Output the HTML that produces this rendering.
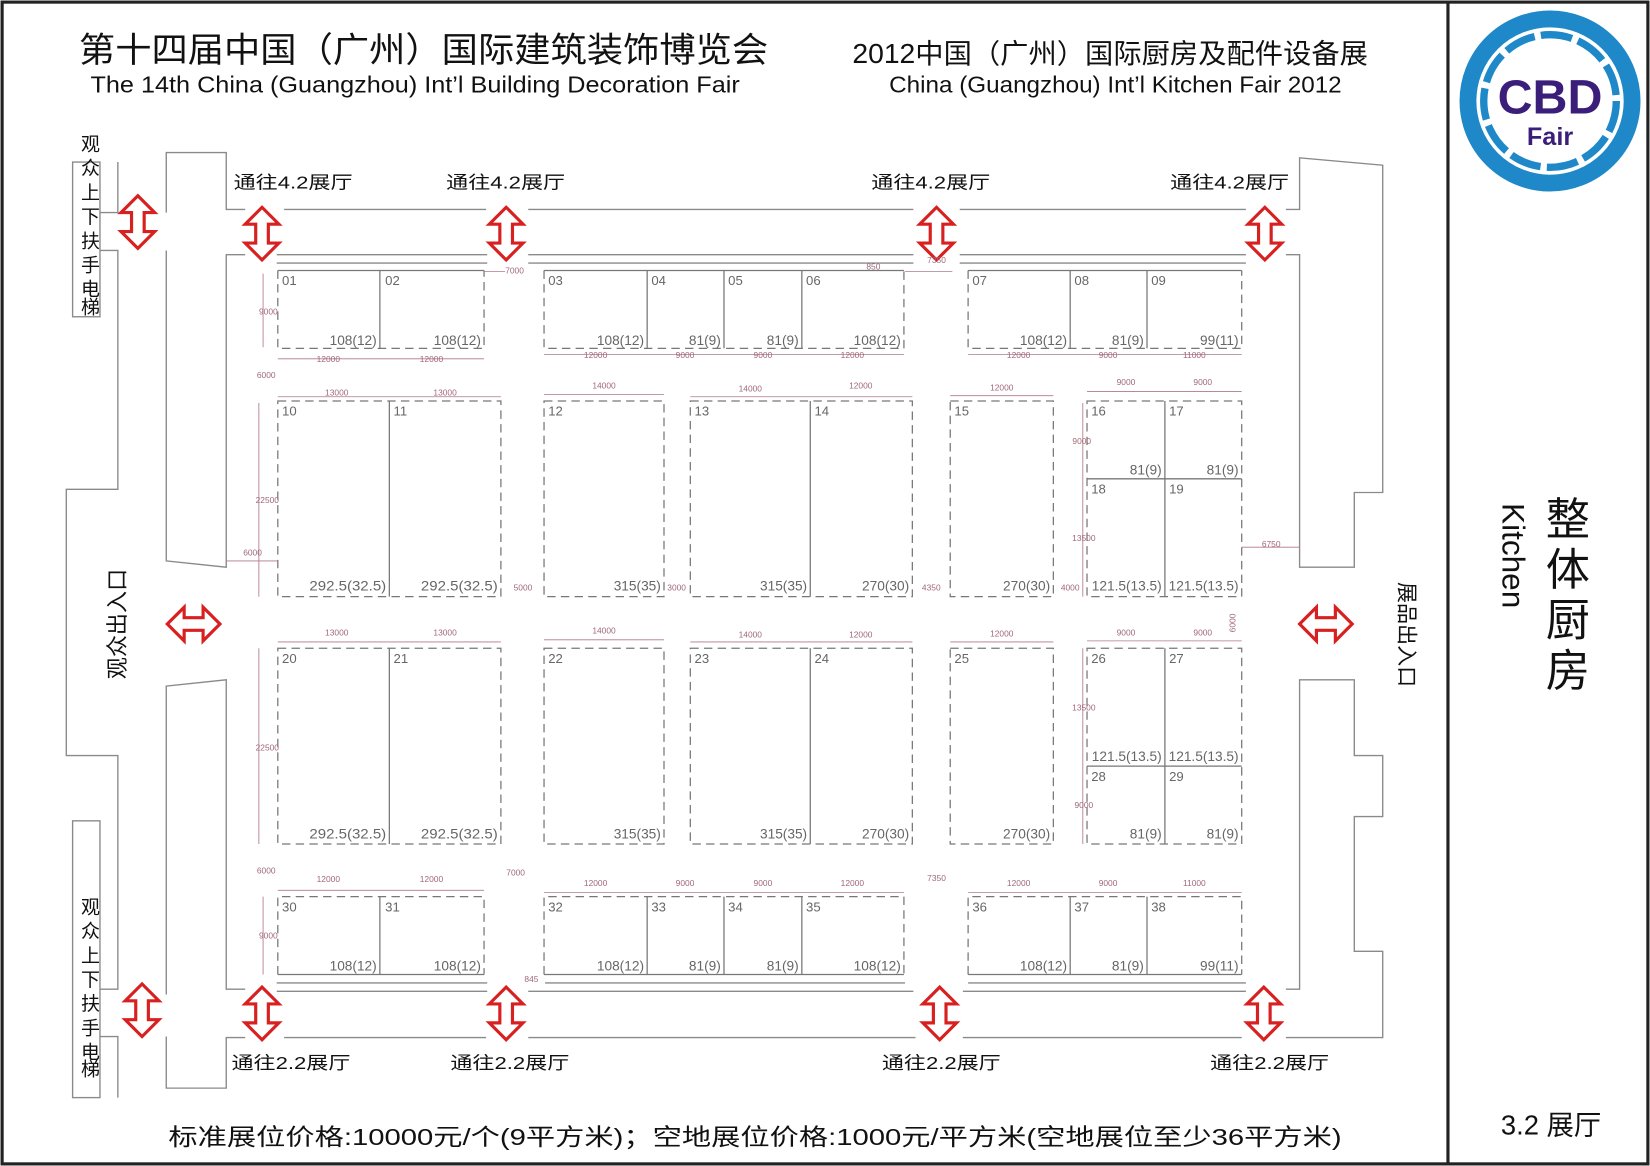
<!DOCTYPE html>
<html><head><meta charset="utf-8"><style>
html,body{margin:0;padding:0;background:#fff;}
svg{display:block;}
text{font-family:"Liberation Sans","Noto Sans CJK SC",sans-serif;}
.w{stroke:#8a8a8a;stroke-width:1.3;fill:none;}
.d{stroke:#777;stroke-width:1.2;fill:none;stroke-dasharray:8,5;}
.s{stroke:#777;stroke-width:1.2;fill:none;}
.dm{stroke:#b07888;stroke-width:0.8;fill:none;}
.dt{font-size:8px;fill:#a06878;}
.bn{font-size:12.5px;fill:#666;}
.bv{font-size:13px;fill:#666;text-anchor:end;}
.ar{stroke:#d82020;stroke-width:3;fill:#fff;stroke-linejoin:miter;}
.lb{font-size:17px;fill:#111;}
</style></head><body>
<svg width="1650" height="1166" viewBox="0 0 1568 1108" preserveAspectRatio="none" xmlns="http://www.w3.org/2000/svg">
<defs>
<path id="av" d="M0,-25 L16,-9 L6,-9 L6,9 L16,9 L0,25 L-16,9 L-6,9 L-6,-9 L-16,-9 Z"/>
<path id="ah" d="M-25,0 L-9,-16 L-9,-6 L9,-6 L9,-16 L25,0 L9,16 L9,6 L-9,6 L-9,16 Z"/>
</defs>
<rect x="2" y="2" width="1564" height="1104" fill="#fff" stroke="#222" stroke-width="3"/>
<line x1="1376" y1="2" x2="1376" y2="1106" stroke="#222" stroke-width="3"/>

<!-- titles -->
<text x="75" y="59" font-size="33" textLength="655" lengthAdjust="spacingAndGlyphs" fill="#111">第十四届中国（广州）国际建筑装饰博览会</text>
<text x="86" y="88" font-size="22" textLength="617" lengthAdjust="spacingAndGlyphs" fill="#111">The  14th  China (Guangzhou) Int’l  Building  Decoration  Fair</text>
<text x="810" y="60" font-size="26" textLength="490" lengthAdjust="spacingAndGlyphs" fill="#111">2012中国（广州）国际厨房及配件设备展</text>
<text x="845" y="88" font-size="22" textLength="430" lengthAdjust="spacingAndGlyphs" fill="#111">China (Guangzhou) Int’l Kitchen Fair  2012</text>

<!-- logo -->
<circle cx="1473" cy="96" r="78" fill="none" stroke="#1e88c8" stroke-width="16"/>
<circle cx="1473" cy="96" r="63" fill="none" stroke="#1e88c8" stroke-width="7" stroke-dasharray="30,6"/>
<circle cx="1473" cy="96" r="56" fill="#fff"/>
<text x="1473" y="108" font-size="46" font-weight="bold" text-anchor="middle" fill="#3a1e7a">CBD</text>
<text x="1473" y="138" font-size="24" font-weight="bold" text-anchor="middle" fill="#3a1e7a">Fair</text>

<!-- right panel -->
<g font-size="42" fill="#111" text-anchor="middle">
<text x="1490" y="508">整</text><text x="1490" y="556">体</text><text x="1490" y="604">厨</text><text x="1490" y="652">房</text>
</g>
<text transform="translate(1428,478) rotate(90)" font-size="30" fill="#111">Kitchen</text>
<text x="1474" y="1078" font-size="26" text-anchor="middle" fill="#111">3.2 展厅</text>

<text x="160" y="1088" font-size="22" textLength="1115" lengthAdjust="spacingAndGlyphs" fill="#111">标准展位价格:10000元/个(9平方米)；空地展位价格:1000元/平方米(空地展位至少36平方米)</text>

<!-- left side walls -->
<rect x="69" y="154" width="26" height="147" class="w"/>
<g font-size="18" fill="#111" text-anchor="middle">
<text x="86" y="143">观</text><text x="86" y="166">众</text><text x="86" y="189">上</text><text x="86" y="212">下</text><text x="86" y="235">扶</text><text x="86" y="258">手</text><text x="86" y="281">电</text><text x="86" y="298">梯</text>
</g>
<rect x="69" y="780" width="26" height="263" class="w"/>
<g font-size="18" fill="#111" text-anchor="middle">
<text x="86" y="868">观</text><text x="86" y="891">众</text><text x="86" y="914">上</text><text x="86" y="937">下</text><text x="86" y="960">扶</text><text x="86" y="983">手</text><text x="86" y="1006">电</text><text x="86" y="1022">梯</text>
</g>
<polyline class="w" points="112,154 112,202 95,202"/>
<polyline class="w" points="95,238 112,238 112,465 63,465 63,718 112,718 112,940 95,940"/>
<polyline class="w" points="95,985 112,985 112,1043"/>
<polyline class="w" points="158,202 158,145 215,145 215,199 233,199"/>
<polyline class="w" points="233,242 215,242 215,539 158,533 158,238"/>
<polyline class="w" points="158,945 158,652 215,646 215,940 233,940"/>
<polyline class="w" points="233,986 215,986 215,1034 158,1034 158,985"/>
<text transform="translate(119,593) rotate(-90)" font-size="21" fill="#111" text-anchor="middle">观众出入口</text>

<!-- right walls -->
<polyline class="w" points="1222,199 1235,199 1235,150 1314,157 1314,468 1287,468 1287,539 1235,539 1235,242 1222,242"/>
<polyline class="w" points="1222,940 1235,940 1235,646 1287,646 1287,718 1314,718 1314,776 1287,776 1287,904 1314,904 1314,986 1222,986"/>
<text transform="translate(1330,603) rotate(90)" font-size="20" fill="#111" text-anchor="middle">展品出入口</text>

<g class="w">
<line x1="270" y1="199" x2="462" y2="199"/><line x1="502" y1="199" x2="868" y2="199"/><line x1="912" y1="199" x2="1184" y2="199"/>
<line x1="263" y1="242" x2="463" y2="242"/><line x1="263" y1="250" x2="463" y2="250"/>
<line x1="502" y1="242" x2="868" y2="242"/><line x1="502" y1="250" x2="868" y2="250"/>
<line x1="912" y1="242" x2="1184" y2="242"/><line x1="912" y1="250" x2="1184" y2="250"/>
<line x1="263" y1="934" x2="463" y2="934"/><line x1="263" y1="942" x2="463" y2="942"/><line x1="270" y1="986" x2="462" y2="986"/>
<line x1="518" y1="934" x2="860" y2="934"/><line x1="502" y1="942" x2="868" y2="942"/><line x1="502" y1="986" x2="870" y2="986"/>
<line x1="920" y1="934" x2="1184" y2="934"/><line x1="915" y1="942" x2="1184" y2="942"/><line x1="915" y1="986" x2="1180" y2="986"/>
</g>

<g class="lb">
<text x="222" y="179" textLength="113" lengthAdjust="spacingAndGlyphs">通往4.2展厅</text><text x="424" y="179" textLength="113" lengthAdjust="spacingAndGlyphs">通往4.2展厅</text><text x="828" y="179" textLength="113" lengthAdjust="spacingAndGlyphs">通往4.2展厅</text><text x="1112" y="179" textLength="113" lengthAdjust="spacingAndGlyphs">通往4.2展厅</text>
<text x="220" y="1016" textLength="113" lengthAdjust="spacingAndGlyphs">通往2.2展厅</text><text x="428" y="1016" textLength="113" lengthAdjust="spacingAndGlyphs">通往2.2展厅</text><text x="838" y="1016" textLength="113" lengthAdjust="spacingAndGlyphs">通往2.2展厅</text><text x="1150" y="1016" textLength="113" lengthAdjust="spacingAndGlyphs">通往2.2展厅</text>
</g>

<g class="ar">
<use href="#av" x="131" y="211"/><use href="#av" x="249" y="222"/><use href="#av" x="481" y="222"/><use href="#av" x="890" y="222"/><use href="#av" x="1202" y="222"/>
<use href="#av" x="135" y="960"/><use href="#av" x="249" y="963"/><use href="#av" x="481" y="963"/><use href="#av" x="893" y="963"/><use href="#av" x="1201" y="963"/>
<use href="#ah" x="184" y="593"/><use href="#ah" x="1260" y="593"/>
</g>

<g>
<line class="s" x1="264" y1="257" x2="460" y2="257"/><polyline class="d" points="264,257 264,331 460,331 460,257"/><line class="s" x1="361" y1="257" x2="361" y2="331"/>
<line class="s" x1="517" y1="257" x2="859" y2="257"/><polyline class="d" points="517,257 517,331 859,331 859,257"/>
<line class="s" x1="615" y1="257" x2="615" y2="331"/><line class="s" x1="688" y1="257" x2="688" y2="331"/><line class="s" x1="762" y1="257" x2="762" y2="331"/>
<line class="s" x1="920" y1="257" x2="1180" y2="257"/><polyline class="d" points="920,257 920,331 1180,331 1180,257"/>
<line class="s" x1="1017" y1="257" x2="1017" y2="331"/><line class="s" x1="1090" y1="257" x2="1090" y2="331"/>
</g>
<g class="bn">
<text x="268" y="271">01</text><text x="366" y="271">02</text><text x="521" y="271">03</text><text x="619" y="271">04</text><text x="692" y="271">05</text><text x="766" y="271">06</text><text x="924" y="271">07</text><text x="1021" y="271">08</text><text x="1094" y="271">09</text>
</g>
<g class="bv">
<text x="358" y="328">108(12)</text><text x="457" y="328">108(12)</text><text x="612" y="328">108(12)</text><text x="685" y="328">81(9)</text><text x="759" y="328">81(9)</text><text x="856" y="328">108(12)</text><text x="1014" y="328">108(12)</text><text x="1087" y="328">81(9)</text><text x="1177" y="328">99(11)</text>
</g>

<g>
<rect class="d" x="264" y="381" width="212" height="186"/><line class="s" x1="370" y1="381" x2="370" y2="567"/>
<rect class="d" x="517" y="381" width="114" height="186"/>
<rect class="d" x="656" y="381" width="211" height="186"/><line class="s" x1="770" y1="381" x2="770" y2="567"/>
<rect class="d" x="903" y="381" width="98" height="186"/>
<rect class="d" x="1033" y="381" width="147" height="186"/><line class="s" x1="1107" y1="381" x2="1107" y2="567"/><line class="s" x1="1033" y1="455" x2="1180" y2="455"/>
</g>
<g class="bn">
<text x="268" y="395">10</text><text x="374" y="395">11</text><text x="521" y="395">12</text><text x="660" y="395">13</text><text x="774" y="395">14</text><text x="907" y="395">15</text>
<text x="1037" y="395">16</text><text x="1111" y="395">17</text><text x="1037" y="469">18</text><text x="1111" y="469">19</text>
</g>
<g class="bv">
<text x="367" y="561" textLength="73" lengthAdjust="spacingAndGlyphs">292.5(32.5)</text><text x="473" y="561" textLength="73" lengthAdjust="spacingAndGlyphs">292.5(32.5)</text><text x="628" y="561">315(35)</text><text x="767" y="561">315(35)</text><text x="864" y="561">270(30)</text><text x="998" y="561">270(30)</text>
<text x="1104" y="451">81(9)</text><text x="1177" y="451">81(9)</text><text x="1104" y="561">121.5(13.5)</text><text x="1177" y="561">121.5(13.5)</text>
</g>

<g>
<rect class="d" x="264" y="616" width="212" height="186"/><line class="s" x1="370" y1="616" x2="370" y2="802"/>
<rect class="d" x="517" y="616" width="114" height="186"/>
<rect class="d" x="656" y="616" width="211" height="186"/><line class="s" x1="770" y1="616" x2="770" y2="802"/>
<rect class="d" x="903" y="616" width="98" height="186"/>
<rect class="d" x="1033" y="616" width="147" height="186"/><line class="s" x1="1107" y1="616" x2="1107" y2="802"/><line class="s" x1="1033" y1="728" x2="1180" y2="728"/>
</g>
<g class="bn">
<text x="268" y="630">20</text><text x="374" y="630">21</text><text x="521" y="630">22</text><text x="660" y="630">23</text><text x="774" y="630">24</text><text x="907" y="630">25</text>
<text x="1037" y="630">26</text><text x="1111" y="630">27</text><text x="1037" y="742">28</text><text x="1111" y="742">29</text>
</g>
<g class="bv">
<text x="367" y="797" textLength="73" lengthAdjust="spacingAndGlyphs">292.5(32.5)</text><text x="473" y="797" textLength="73" lengthAdjust="spacingAndGlyphs">292.5(32.5)</text><text x="628" y="797">315(35)</text><text x="767" y="797">315(35)</text><text x="864" y="797">270(30)</text><text x="998" y="797">270(30)</text>
<text x="1104" y="723">121.5(13.5)</text><text x="1177" y="723">121.5(13.5)</text><text x="1104" y="797">81(9)</text><text x="1177" y="797">81(9)</text>
</g>

<g>
<line class="s" x1="264" y1="926" x2="460" y2="926"/><polyline class="d" points="264,926 264,852 460,852 460,926"/><line class="s" x1="361" y1="852" x2="361" y2="926"/>
<line class="s" x1="517" y1="926" x2="859" y2="926"/><polyline class="d" points="517,926 517,852 859,852 859,926"/>
<line class="s" x1="615" y1="852" x2="615" y2="926"/><line class="s" x1="688" y1="852" x2="688" y2="926"/><line class="s" x1="762" y1="852" x2="762" y2="926"/>
<line class="s" x1="920" y1="926" x2="1180" y2="926"/><polyline class="d" points="920,926 920,852 1180,852 1180,926"/>
<line class="s" x1="1017" y1="852" x2="1017" y2="926"/><line class="s" x1="1090" y1="852" x2="1090" y2="926"/>
</g>
<g class="bn">
<text x="268" y="866">30</text><text x="366" y="866">31</text><text x="521" y="866">32</text><text x="619" y="866">33</text><text x="692" y="866">34</text><text x="766" y="866">35</text><text x="924" y="866">36</text><text x="1021" y="866">37</text><text x="1094" y="866">38</text>
</g>
<g class="bv">
<text x="358" y="922">108(12)</text><text x="457" y="922">108(12)</text><text x="612" y="922">108(12)</text><text x="685" y="922">81(9)</text><text x="759" y="922">81(9)</text><text x="856" y="922">108(12)</text><text x="1014" y="922">108(12)</text><text x="1087" y="922">81(9)</text><text x="1177" y="922">99(11)</text>
</g>

<g class="dm">
<line x1="264" y1="341" x2="460" y2="341"/><line x1="517" y1="337" x2="859" y2="337"/><line x1="920" y1="337" x2="1180" y2="337"/>
<line x1="264" y1="377" x2="476" y2="377"/><line x1="517" y1="375" x2="631" y2="375"/><line x1="656" y1="377" x2="867" y2="377"/><line x1="903" y1="376" x2="1001" y2="376"/><line x1="1033" y1="372" x2="1180" y2="372"/>
<line x1="264" y1="610" x2="476" y2="610"/><line x1="517" y1="608" x2="631" y2="608"/><line x1="656" y1="610" x2="867" y2="610"/><line x1="903" y1="610" x2="1001" y2="610"/><line x1="1033" y1="609" x2="1180" y2="609"/>
<line x1="264" y1="846" x2="460" y2="846"/><line x1="517" y1="848" x2="859" y2="848"/><line x1="920" y1="848" x2="1180" y2="848"/>
<line x1="250" y1="260" x2="250" y2="330"/><line x1="246" y1="383" x2="246" y2="567"/><line x1="246" y1="616" x2="246" y2="802"/><line x1="250" y1="852" x2="250" y2="926"/>
<line x1="1029" y1="383" x2="1029" y2="567"/><line x1="1029" y1="616" x2="1029" y2="802"/>
<line x1="1180" y1="520" x2="1235" y2="520"/><line x1="215" y1="533" x2="264" y2="533"/>
<line x1="460" y1="258" x2="480" y2="258"/><line x1="860" y1="258" x2="905" y2="258"/>
</g>
<g class="dt" text-anchor="middle">
<text x="312" y="344">12000</text><text x="410" y="344">12000</text><text x="566" y="340">12000</text><text x="651" y="340">9000</text><text x="725" y="340">9000</text><text x="810" y="340">12000</text><text x="968" y="340">12000</text><text x="1053" y="340">9000</text><text x="1135" y="340">11000</text>
<text x="320" y="376">13000</text><text x="423" y="376">13000</text><text x="574" y="369">14000</text><text x="713" y="372">14000</text><text x="818" y="369">12000</text><text x="952" y="371">12000</text><text x="1070" y="366">9000</text><text x="1143" y="366">9000</text>
<text x="320" y="604">13000</text><text x="423" y="604">13000</text><text x="574" y="602">14000</text><text x="713" y="606">14000</text><text x="818" y="606">12000</text><text x="952" y="605">12000</text><text x="1070" y="604">9000</text><text x="1143" y="604">9000</text>
<text x="312" y="838">12000</text><text x="410" y="838">12000</text><text x="566" y="842">12000</text><text x="651" y="842">9000</text><text x="725" y="842">9000</text><text x="810" y="842">12000</text><text x="968" y="842">12000</text><text x="1053" y="842">9000</text><text x="1135" y="842">11000</text>
<text x="255" y="299">9000</text><text x="253" y="359">6000</text><text x="254" y="478">22500</text><text x="240" y="528">6000</text><text x="254" y="713">22500</text><text x="253" y="830">6000</text><text x="255" y="892">9000</text>
<text x="489" y="260">7000</text><text x="830" y="256">850</text><text x="890" y="250">7350</text><text x="497" y="561">5000</text><text x="643" y="561">3000</text><text x="885" y="561">4350</text><text x="1017" y="561">4000</text>
<text x="1208" y="520">6750</text><text x="1028" y="422">9000</text><text x="1030" y="514">13500</text><text x="1030" y="675">13500</text><text x="1030" y="768">9000</text>
<text x="490" y="832">7000</text><text x="890" y="837">7350</text><text x="505" y="933">845</text>
<text transform="translate(1174,592) rotate(-90)">6000</text>
</g>
</svg>
</body></html>
